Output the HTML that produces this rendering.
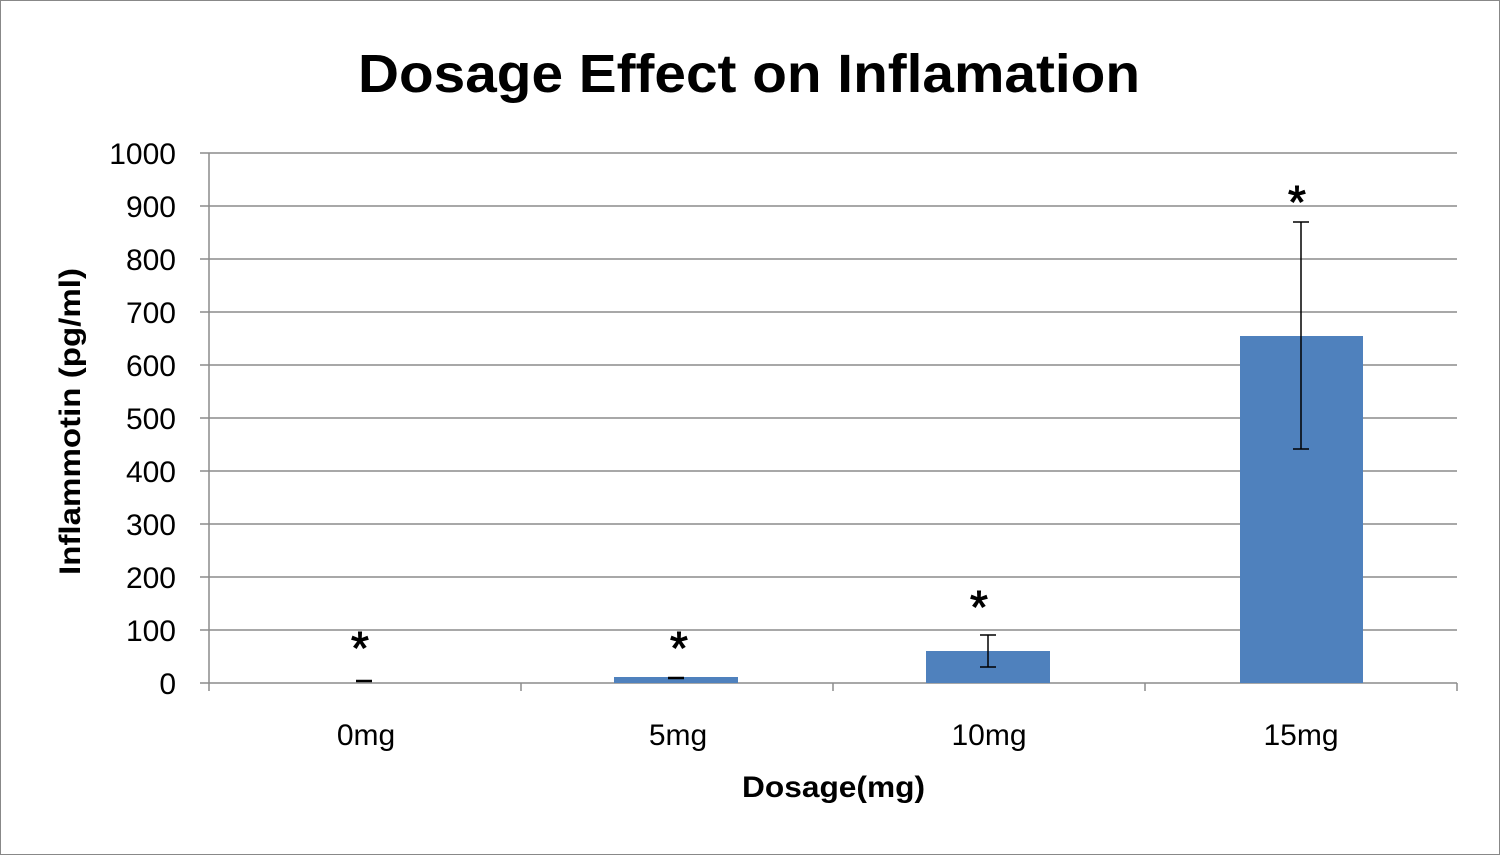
<!DOCTYPE html>
<html><head><style>
html,body{margin:0;padding:0;background:#fff;}
svg{display:block;}
text{font-family:"Liberation Sans",Calibri,sans-serif;}
</style></head><body>
<svg width="1500" height="855" viewBox="0 0 1500 855" xmlns="http://www.w3.org/2000/svg">
<rect x="0.5" y="0.5" width="1499" height="854" fill="#fff" stroke="#888" stroke-width="1"/>
<text x="358" y="92" textLength="782" lengthAdjust="spacingAndGlyphs" font-size="54" font-weight="bold" fill="#000">Dosage Effect on Inflamation</text>
<g stroke="#8c8c8c" stroke-width="1.5">
<line x1="200" y1="153" x2="1457" y2="153"/>
<line x1="200" y1="206" x2="1457" y2="206"/>
<line x1="200" y1="259" x2="1457" y2="259"/>
<line x1="200" y1="312" x2="1457" y2="312"/>
<line x1="200" y1="365" x2="1457" y2="365"/>
<line x1="200" y1="418" x2="1457" y2="418"/>
<line x1="200" y1="471" x2="1457" y2="471"/>
<line x1="200" y1="524" x2="1457" y2="524"/>
<line x1="200" y1="577" x2="1457" y2="577"/>
<line x1="200" y1="630" x2="1457" y2="630"/>
<line x1="200" y1="683" x2="1457" y2="683"/>
<line x1="209" y1="153" x2="209" y2="691"/>
<line x1="521" y1="683" x2="521" y2="691"/>
<line x1="833" y1="683" x2="833" y2="691"/>
<line x1="1145" y1="683" x2="1145" y2="691"/>
<line x1="1457" y1="683" x2="1457" y2="691"/>
</g>
<g font-size="30" fill="#000" text-anchor="end">
<text x="176" y="164">1000</text><text x="176" y="217">900</text><text x="176" y="270">800</text>
<text x="176" y="323">700</text><text x="176" y="376">600</text><text x="176" y="429">500</text>
<text x="176" y="482">400</text><text x="176" y="535">300</text><text x="176" y="588">200</text>
<text x="176" y="641">100</text><text x="176" y="694">0</text>
</g>
<g fill="#4f81bd">
<rect x="614" y="677" width="124" height="6"/>
<rect x="926" y="651" width="124" height="32"/>
<rect x="1240" y="336" width="123" height="347"/>
</g>
<g stroke="#000" stroke-width="1.5">
<line x1="356" y1="681" x2="372" y2="681" stroke-width="2.5"/>
<line x1="668" y1="678" x2="684" y2="678" stroke-width="2.5"/>
<line x1="988" y1="635" x2="988" y2="667"/><line x1="980" y1="635" x2="996" y2="635"/><line x1="980" y1="667" x2="996" y2="667"/>
<line x1="1301" y1="222" x2="1301" y2="449"/><line x1="1293" y1="222" x2="1309" y2="222"/><line x1="1293" y1="449" x2="1309" y2="449"/>
</g>
<g font-size="46" fill="#000" text-anchor="middle" stroke="#000" stroke-width="1">
<text x="360" y="664">*</text><text x="679" y="664">*</text><text x="979" y="623">*</text><text x="1297" y="218">*</text>
</g>
<g font-size="30" fill="#000" text-anchor="middle">
<text x="366" y="745">0mg</text><text x="678" y="745">5mg</text><text x="989" y="745">10mg</text><text x="1301" y="745">15mg</text>
</g>
<text x="742" y="797" textLength="183" lengthAdjust="spacingAndGlyphs" font-size="30" font-weight="bold">Dosage(mg)</text>
<text transform="translate(80,575) rotate(-90)" textLength="307" lengthAdjust="spacingAndGlyphs" font-size="30" font-weight="bold">Inflammotin (pg/ml)</text>
</svg>
</body></html>
